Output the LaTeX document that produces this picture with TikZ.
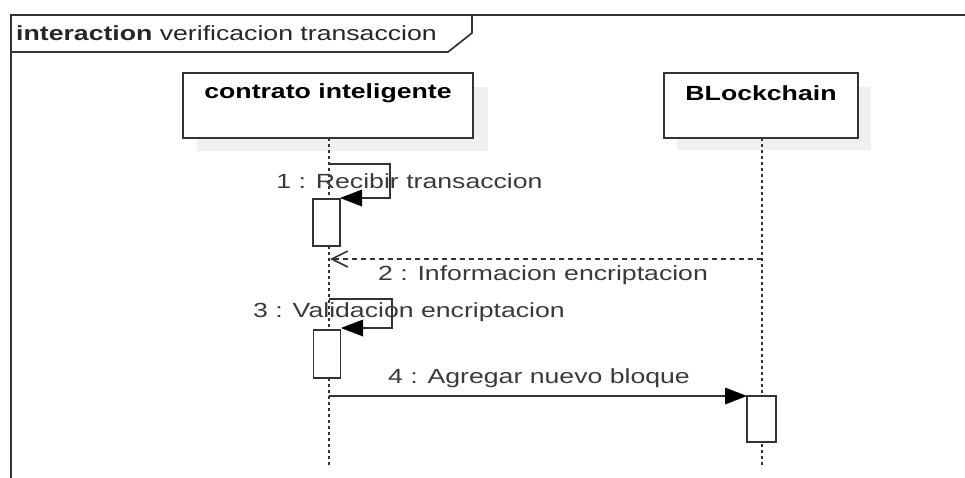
\documentclass[tikz,border=0pt]{standalone}
\usepackage{fontspec}
\usepackage{graphicx}
\setmainfont{Liberation Sans}
\usetikzlibrary{arrows.meta}
\definecolor{ln}{HTML}{333333}
\definecolor{tx}{HTML}{3A3A3A}
\definecolor{shd}{HTML}{F0F0F0}
\newcommand\wide[1]{\scalebox{1.30}[1]{#1}}
\begin{document}
\begin{tikzpicture}[x=1pt,y=-1pt,
  every node/.style={font=\fontsize{20.5}{24}\selectfont},
  frame/.style={draw=ln,line width=1.7pt},
  head/.style={draw=ln,line width=1.7pt,fill=white,rectangle,inner sep=0pt},
  headtxt/.style={inner sep=0pt,text=black,font=\fontsize{20.5}{24}\selectfont\bfseries},
  shadowbox/.style={fill=shd,draw=none},
  lifeline/.style={draw=ln,line width=1.7pt,dash pattern=on 3pt off 3pt},
  act/.style={draw=ln,line width=1.7pt,fill=white,rectangle,inner sep=0pt,minimum width=27pt},
  msg/.style={draw=ln,line width=1.6pt,-{Triangle[length=22pt,width=17pt,fill=black,line width=0pt]}},
  ret/.style={draw=ln,line width=1.6pt,dash pattern=on 5pt off 4pt,-{Straight Barb[length=16pt,width=16pt,line width=1.6pt]}},
  lbl/.style={inner sep=0pt,text=tx}
]
\useasboundingbox (0,0) rectangle (965,477);
% frame
\coordinate (fbl) at (11,480);
\coordinate (ftl) at (11,15);
\coordinate (ftr) at (968,15);
\draw[frame] (fbl) -- (ftl) -- (ftr);
\coordinate (tab1) at (11,52);
\coordinate (tab2) at (448,52);
\coordinate (tab3) at (472,33);
\coordinate (tab4) at (472,15);
\draw[frame] (tab1) -- (tab2) -- (tab3) -- (tab4);
\node[lbl,anchor=west,text=black!85] (title) at (16,33) {\wide{\textbf{interaction} verificacion transaccion}};
% shadows
\fill[shadowbox] (197,87) rectangle (488,151);
\fill[shadowbox] (677,87) rectangle (871,150);
% heads
\node[head,minimum width=290pt,minimum height=65pt] (c) at (328,105.5) {};
\node[headtxt] (ct) at (328,93) {\wide{contrato inteligente}};
\node[head,minimum width=194pt,minimum height=65pt] (b) at (761,105.5) {};
\node[headtxt] (bt) at (761,93) {\wide{BLockchain}};
% lifeline ends
\coordinate (ce) at (329,466);
\coordinate (be) at (762,466);
\coordinate (cs) at (329,138);
\coordinate (bs) at (762,138);
\draw[lifeline] (cs) -- (ce);
\draw[lifeline] (bs) -- (be);
% activations
\node[act,minimum height=47pt] (a1) at (326.5,222.5) {};
\node[act,minimum height=48pt] (a2) at (327,354) {};
\node[act,minimum height=46pt,minimum width=29pt] (a3) at (761.5,419) {};
% message 1
\coordinate (m1s) at (329,164);
\coordinate (m1c) at (390,198);
\coordinate (m1e) at (340,198);
\draw[msg] (m1s) -| (m1c) -- (m1e);
\node[lbl] (l1) at (409.5,181) {\wide{1 : Recibir transaccion}};
% message 2
\coordinate (m2s) at (762,259);
\coordinate (m2e) at (330,259);
\draw[ret] (m2s) -- (m2e);
\node[lbl] (l2) at (543,275) {\wide{2 : Informacion encriptacion}};
% message 3
\coordinate (m3s) at (329,299);
\coordinate (m3c) at (392,328);
\coordinate (m3e) at (341,328);
\draw[msg] (m3s) -| (m3c) -- (m3e);
\node[lbl] (l3) at (409,312) {\wide{3 : Validacion encriptacion}};
% message 4
\coordinate (m4s) at (329,396);
\coordinate (m4e) at (747,396);
\draw[msg] (m4s) -- (m4e);
\node[lbl] (l4) at (539,378) {\wide{4 : Agregar nuevo bloque}};
\end{tikzpicture}
\end{document}
